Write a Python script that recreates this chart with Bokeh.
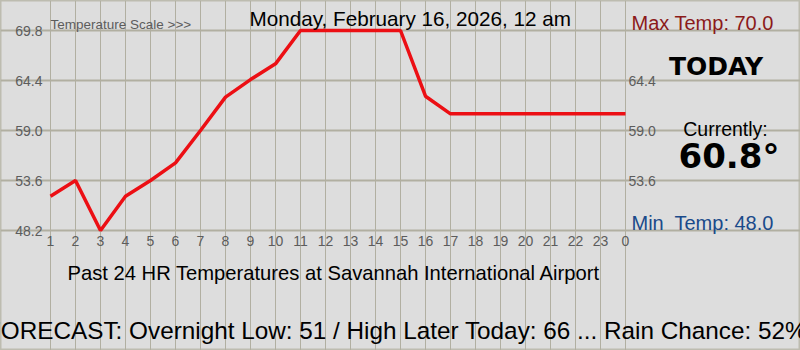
from bokeh.plotting import figure
from bokeh.models import Range1d, FixedTicker, ColumnDataSource
from bokeh.core.properties import value
from bokeh.embed import file_html
from bokeh.resources import INLINE

# ---- data ----
hour_labels = ["1", "2", "3", "4", "5", "6", "7", "8", "9", "10", "11", "12",
               "13", "14", "15", "16", "17", "18", "19", "20", "21", "22", "23", "0"]
temps = [51.9, 53.6, 48.2, 51.9, 53.6, 55.5, 59.0, 62.6, 64.5, 66.2, 69.8, 69.8,
         69.8, 69.8, 69.8, 62.7, 60.8, 60.8, 60.8, 60.8, 60.8, 60.8, 60.8, 60.8]
y_ticks = [48.2, 53.6, 59.0, 64.4, 69.8]
y_tick_labels = ["48.2", "53.6", "59.0", "64.4", "69.8"]
title_text = "Monday, February 16, 2026, 12 am"
scale_text = "Temperature Scale >>>"
max_text = "Max Temp: 70.0"
min_text = "Min\u00a0 Temp: 48.0"
today_text = "TODAY"
current_label = "Currently:"
current_value = "60.8\u00b0"
caption_text = "Past 24 HR Temperatures at Savannah International Airport"
forecast_text = "FORECAST: Overnight Low: 51 / High Later Today: 66 ... Rain Chance: 52%"

BG = "#dddddd"
GRID = "#b1afa1"
AX = "#5c5c5c"
FONT = "Liberation Sans"

W, H = 800, 350
# data region inside the canvas: hours -> 50..625 px, temps 48.2..69.8 -> 230..30 px
FL, FR, FT, FB = 50, 625, 30, 230
n = len(hour_labels)
xu = (FR - FL) / (n - 1)                      # px per hour
yu = (y_ticks[-1] - y_ticks[0]) / (FB - FT)   # degrees per px
x0 = -FL / xu
x1 = (n - 1) + (W - FR) / xu
y0 = y_ticks[0] - (H - FB) * yu
y1 = y_ticks[-1] + FT * yu

def dx(cx):
    return x0 + cx / xu

def dy(cy):
    return y1 - cy * yu

p = figure(width=W, height=H, output_backend="svg", toolbar_location=None,
           x_range=Range1d(x0, x1), y_range=Range1d(y0, y1),
           x_axis_location=None, y_axis_location=None,
           min_border=0, min_border_left=0, min_border_right=0,
           min_border_top=0, min_border_bottom=0)
p.background_fill_color = BG
p.border_fill_color = BG
p.outline_line_color = "#bdbcb0"
p.outline_line_width = 2

idx = list(range(n))

# grids bounded to the data region
p.xgrid.ticker = FixedTicker(ticks=idx)
p.xgrid.bounds = (y_ticks[0], y_ticks[-1])
p.xgrid.grid_line_color = GRID
p.xgrid.grid_line_width = 1
p.ygrid.ticker = FixedTicker(ticks=y_ticks)
p.ygrid.bounds = (0, n - 1)
p.ygrid.grid_line_color = GRID
p.ygrid.grid_line_width = 2

src = ColumnDataSource(dict(x=idx, y=temps))
p.line("x", "y", source=src, line_color="#ec0f14", line_width=3.5)

# tick labels
tick_style = dict(text_font=value(FONT), text_font_size="14px", text_color=AX,
                  text_baseline="middle")
p.text(x=[dx(FL - 8)] * len(y_ticks), y=y_ticks, text=y_tick_labels,
       text_align="right", **tick_style)
p.text(x=[dx(FR + 3)] * 3, y=y_ticks[1:-1], text=y_tick_labels[1:-1],
       text_align="left", **tick_style)
p.text(x=idx, y=[dy(FB + 10.5)] * n, text=hour_labels,
       text_align="center", **tick_style)

def lab(text, cx, cy, size, color="#000000", font=FONT, style="normal", align="left"):
    p.text(x=[dx(cx)], y=[dy(cy)], text=[text], text_font=value(font),
           text_font_size=size, text_font_style=style, text_color=color,
           text_align=align, text_baseline="middle")

lab(scale_text, 50, 23.5, "13.5px", AX)
lab(title_text, 249, 17.5, "20.7px")
lab(max_text, 631, 22.5, "20px", "#8b1a1a")
lab(min_text, 631, 222.5, "20px", "#1a4a8a")
lab(today_text, 715.5, 66, "25px", font="DejaVu Sans", style="bold", align="center")
lab(current_label, 725, 128.3, "19.5px", align="center")
lab(current_value, 728.5, 155.5, "34px", font="DejaVu Sans", style="bold", align="center")
lab(caption_text, 67, 272, "20.2px")
lab(forecast_text, -14.5, 330, "24.3px")

open("out.html", "w").write(file_html(p, INLINE))
